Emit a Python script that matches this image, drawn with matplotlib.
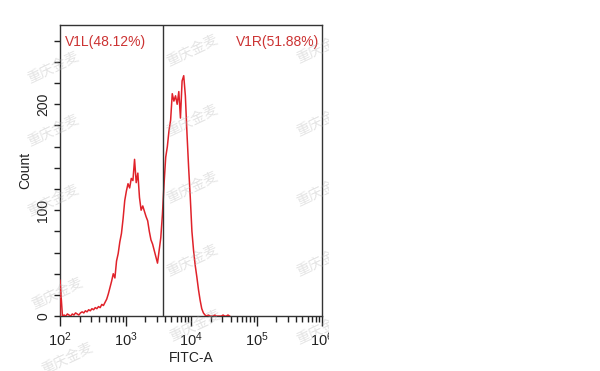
import numpy as np
import matplotlib.pyplot as plt
from matplotlib.ticker import LogLocator, LogFormatterMathtext, MultipleLocator, FixedLocator
from matplotlib.patches import Rectangle

plt.rcParams['font.family'] = ['Liberation Sans', 'DejaVu Sans']
plt.rcParams['mathtext.fontset'] = 'custom'
plt.rcParams['mathtext.rm'] = 'Liberation Sans'

# histogram channels: 0.025 decade wide, starting at 10^2
bin_start_exp = 2.0
bin_width_exp = 0.025
counts = [34, 0, 1, 0, 2, 1, 0, 2, 1, 3,
          2, 1, 3, 4, 3, 5, 4, 6, 5, 7,
          6, 8, 7, 9, 8, 11, 10, 13, 16, 21,
          27, 33, 40, 36, 52, 59, 70, 78, 92, 109,
          118, 125, 121, 130, 128, 148, 126, 135, 112, 100,
          104, 99, 94, 90, 80, 72, 68, 62, 56, 50,
          62, 74, 96, 125, 150, 160, 175, 185, 210, 203,
          208, 200, 212, 187, 222, 227, 208, 172, 140, 112,
          80, 62, 48, 37, 25, 15, 7, 3, 1, 0,
          1, 0, 0, 0, 1, 0, 0, 0, 0, 1,
          0, 0, 1, 0]
gate = 3737
left_label = "V1L(48.12%)"
right_label = "V1R(51.88%)"
xlabel = "FITC-A"
ylabel = "Count"
watermark = "重庆金麦"

centers = 10 ** (bin_start_exp + bin_width_exp * (np.arange(len(counts)) + 0.5))
centers[0] = 10 ** bin_start_exp

fig = plt.figure(figsize=(6, 3.71), dpi=100)
ax = fig.add_axes([0.1, 0.148, 0.437, 0.785])

# the first channel is a spike standing on the left edge
ax.plot([centers[0]] + list(centers), [0] + counts, color='#e0222a', linewidth=1.1, zorder=3)
ax.axvline(gate, color='#333333', linewidth=1.0, zorder=4)

ax.set_xscale('log')
ax.set_xlim(1e2, 1e6)
ax.set_ylim(0, 275)

ax.xaxis.set_major_locator(LogLocator(base=10, numticks=10))
ax.xaxis.set_major_formatter(LogFormatterMathtext())
ax.xaxis.set_minor_locator(LogLocator(base=10, subs=np.arange(2, 10), numticks=50))
ax.yaxis.set_major_locator(FixedLocator([0, 100, 200]))
ax.yaxis.set_minor_locator(MultipleLocator(20))

ax.tick_params(axis='x', which='major', direction='out', length=7, width=1, labelsize=10.5, pad=3, colors='#222222')
ax.tick_params(axis='x', which='minor', direction='out', length=4, width=1, colors='#222222')
ax.tick_params(axis='y', which='both', direction='out', length=4, width=1, labelsize=10, pad=3, colors='#222222')
for lab in ax.get_yticklabels():
    lab.set_rotation(90)
    lab.set_va('center')

for s in ax.spines.values():
    s.set_color('#333333')
    s.set_linewidth(1.0)

ax.set_xlabel(xlabel, fontsize=10, color='#222222', labelpad=2)
ax.set_ylabel(ylabel, fontsize=10, color='#222222', labelpad=3)

ax.text(0.02, 0.965, left_label, transform=ax.transAxes, color='#cc3333',
        fontsize=10, ha='left', va='top')
ax.text(0.99, 0.965, right_label, transform=ax.transAxes, color='#cc3333',
        fontsize=10, ha='right', va='top')

# watermark positions in pixels (x, y from top)
wm_pos = [(53, 67), (53, 130), (53, 200), (57, 293), (67, 358),
          (192, 50), (192, 120), (192, 187), (192, 260), (195, 325),
          (322, 47), (322, 120), (322, 190), (322, 260), (322, 328)]
for px, py in wm_pos:
    fig.text(px / 600, 1 - py / 371, watermark, fontsize=10, rotation=25,
             family=['Noto Sans CJK SC'], color='#b0b0b0', alpha=0.35,
             ha='center', va='center', zorder=10)

# right part of the picture is blank
fig.patches.append(Rectangle((329 / 600, 0), 1, 1, transform=fig.transFigure,
                             facecolor='white', edgecolor='none', zorder=20))

fig.savefig('out.png', dpi=100)
